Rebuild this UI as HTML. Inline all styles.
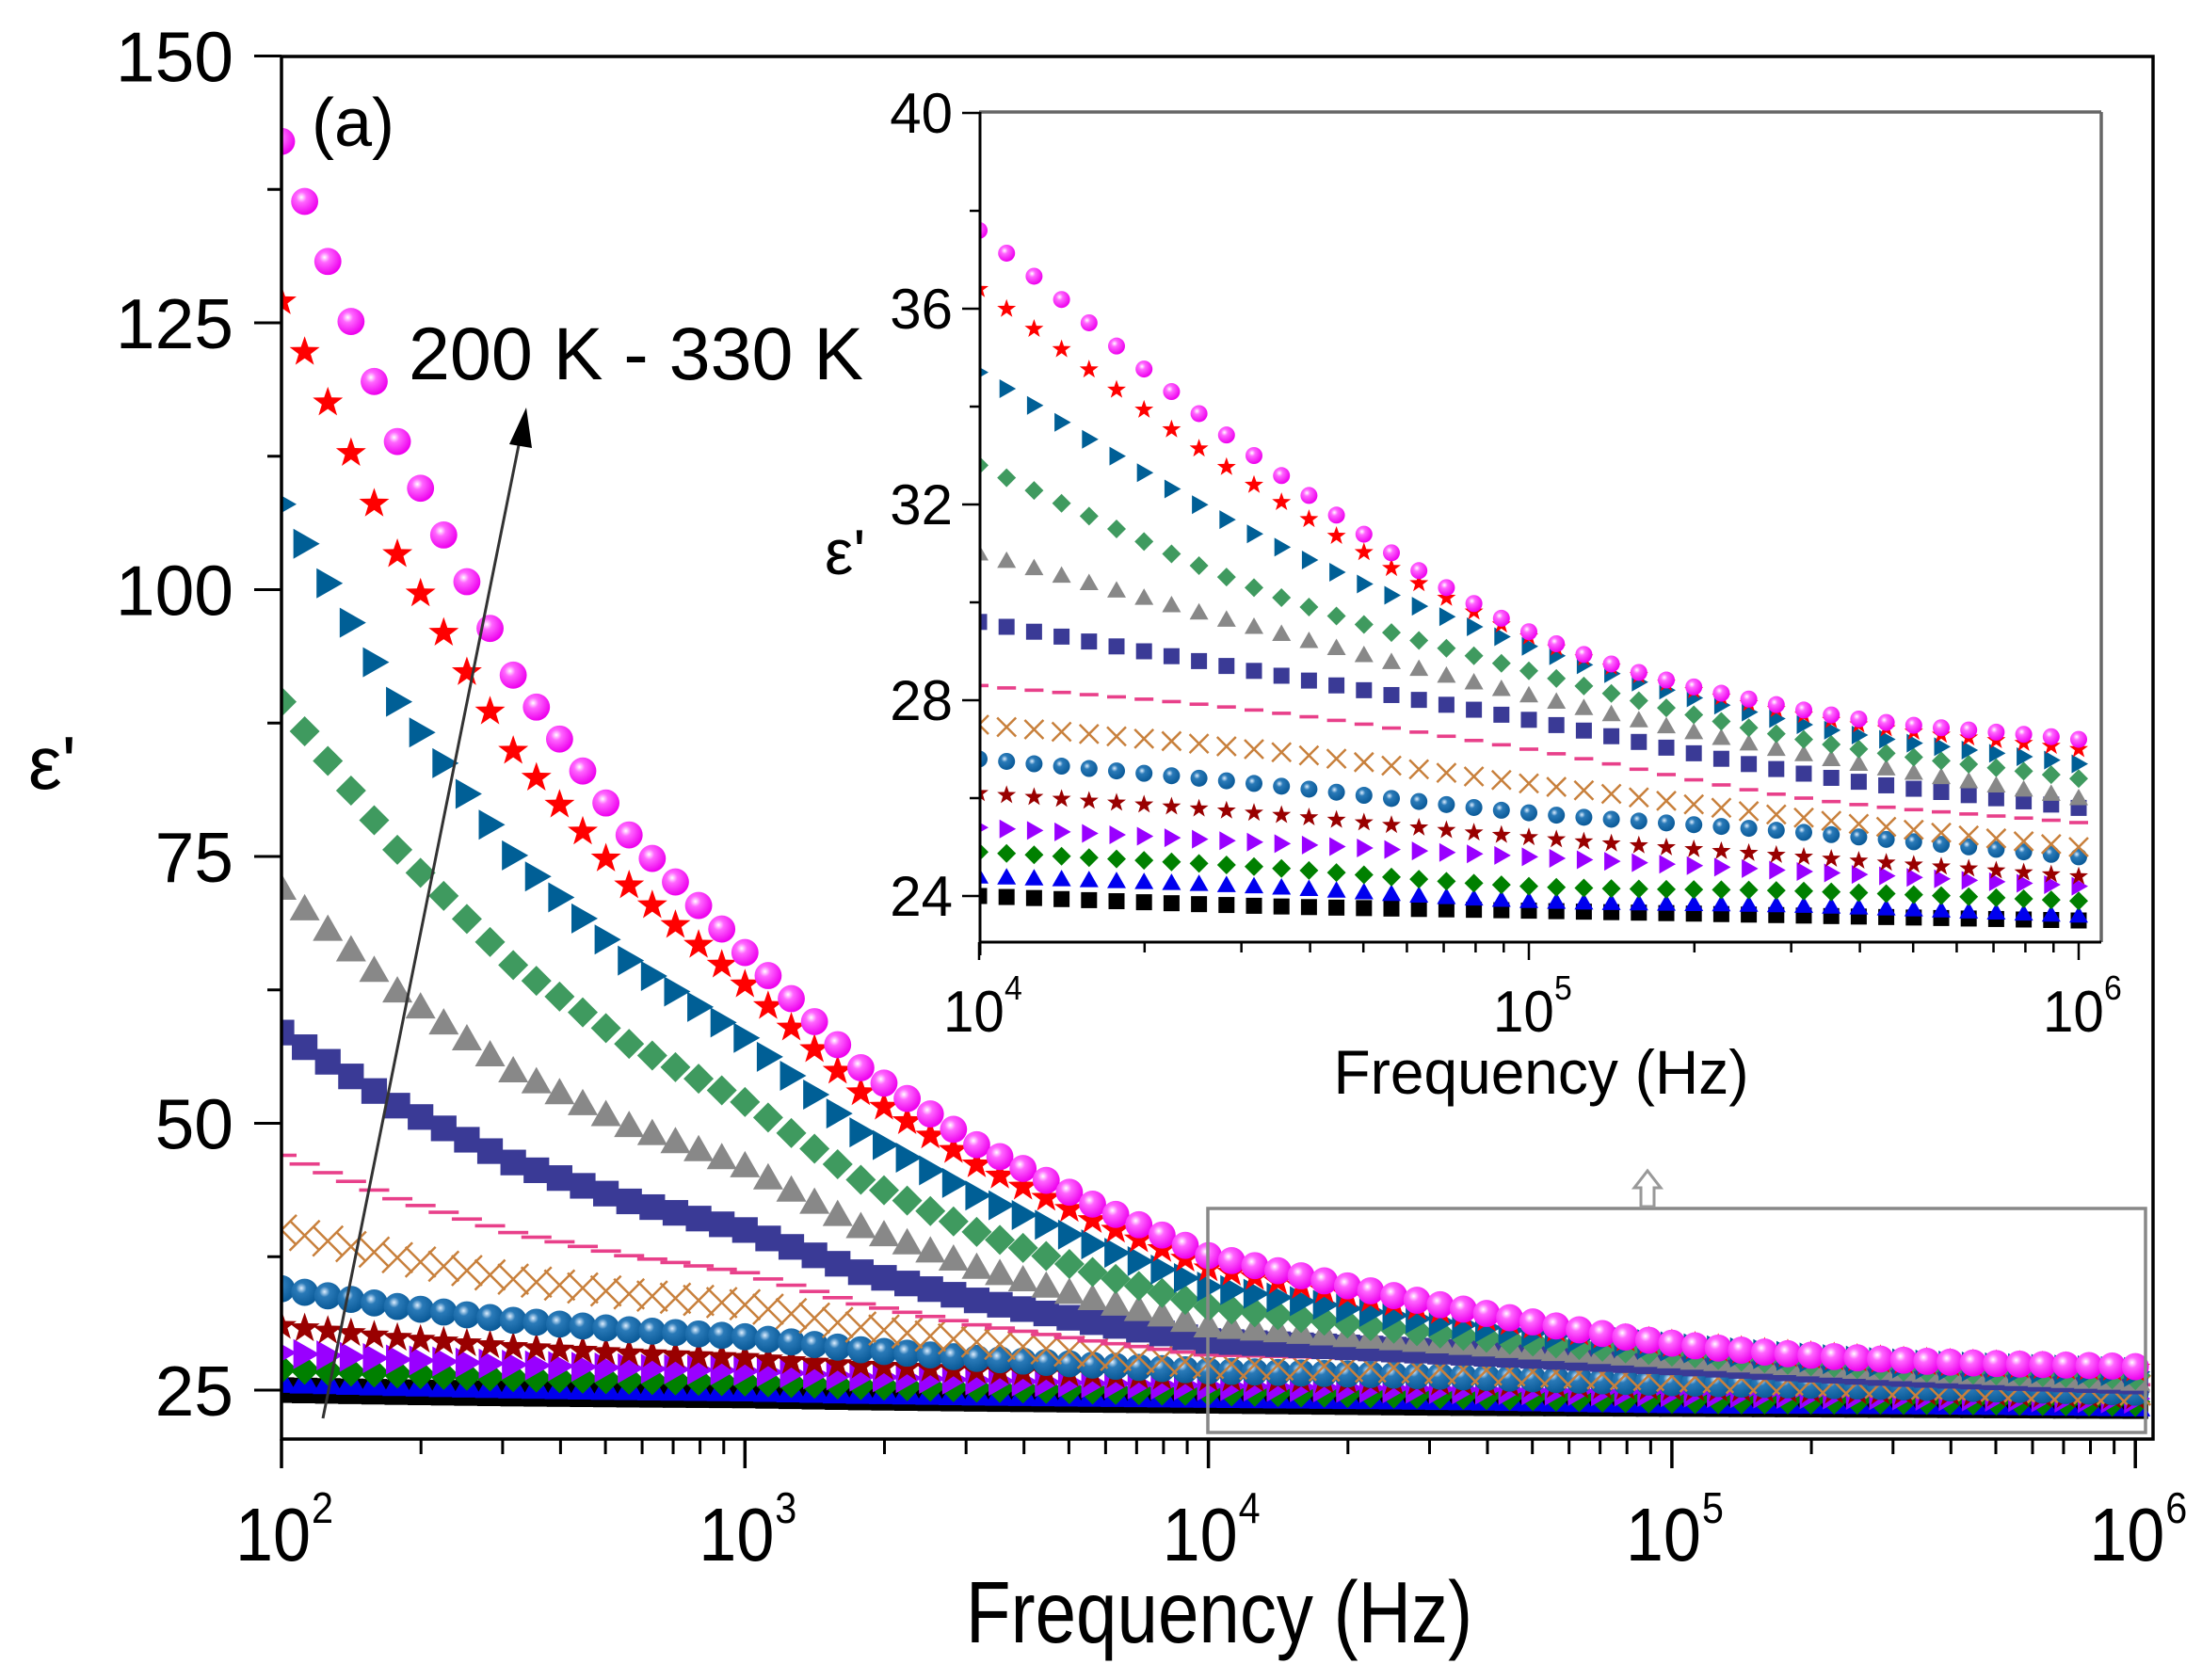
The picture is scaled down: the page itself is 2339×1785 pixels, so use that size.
<!DOCTYPE html>
<html><head><meta charset="utf-8">
<style>html,body{margin:0;padding:0;background:#fff}svg{display:block}text{font-family:"Liberation Sans",Arial,sans-serif}</style>
</head><body>
<svg id="s" width="2339" height="1785" viewBox="0 0 2339 1785" xmlns="http://www.w3.org/2000/svg">
<defs>
<clipPath id="cm"><rect x="299" y="60" width="1988" height="1469"/></clipPath>
<clipPath id="ci"><rect x="1040" y="119" width="1192" height="880"/></clipPath>
<radialGradient id="gm" cx="0.38" cy="0.35" r="0.65"><stop offset="0" stop-color="#fff"/><stop offset="0.3" stop-color="#ff66ff"/><stop offset="1" stop-color="#ee00ee"/></radialGradient>
<radialGradient id="gb" cx="0.38" cy="0.35" r="0.65"><stop offset="0" stop-color="#dfefff"/><stop offset="0.3" stop-color="#2a7ab8"/><stop offset="1" stop-color="#0a5a98"/></radialGradient>
</defs>
<g id="main" clip-path="url(#cm)"></g>
<g id="axes"></g>
<rect x="1040" y="119" width="1192" height="880" fill="#fff"/>
<g id="ins" clip-path="url(#ci)"></g>
<g id="iax"></g>
</svg>
<script>
var NS="http://www.w3.org/2000/svg";
function el(p,t,a,tx){var e=document.createElementNS(NS,t);for(var k in a)e.setAttribute(k,a[k]);if(tx!==undefined)e.textContent=tx;p.appendChild(e);return e;}
function ct(p,x,y,fs,sx,anchor,tx){return el(p,"text",{transform:"translate("+x+","+y+") scale("+sx+",1)","font-size":fs,"text-anchor":anchor||"start"},tx);}
var series=[
["#000","sq",[25,24.5,24.0,23.8,23.7,23.6,23.5]],
["#0000ee","tu",[25.8,25,24.4,24.2,23.9,23.8,23.6]],
["#008000","di",[27,25.8,24.9,24.6,24.2,24.1,23.9]],
["#9900ff","tr",[28.5,26.8,25.4,25.1,24.8,24.5,24.2]],
["#990000","st",[31,28,26.1,25.7,25.2,24.8,24.4]],
["url(#gb)","sp",[34.5,30,26.8,26.3,25.7,25.3,24.8]],
["#c8803c","x",[40,33,27.5,27.0,26.3,25.6,25.0]],
["#e8408a","da",[47,36,28.3,27.8,27.0,26.0,25.5]],
["#3a3a96","sq",[58.5,40,29.6,28.6,27.6,26.5,25.8]],
["#888","tu",[72,46,31.0,29.5,28.1,26.9,26.0]],
["#3f9a5f","di",[89.5,52,32.8,30.3,28.6,27.2,26.4]],
["#005f96","tr",[108,58,34.7,31.4,29.1,27.5,26.7]],
["#ff0000","st",[127,63,36.4,32.4,29.3,27.7,27.0]],
["url(#gm)","sp",[142,66,37.6,33.0,29.4,27.8,27.2]]];
function hA(u){var k=[1,.63,.342,.145,0];var p=u*4,i=Math.min(3,Math.floor(p)),f=p-i;return k[i]+(k[i+1]-k[i])*f;}
function hB(u){var k=[1,.62,.366,.17,0];var p=u*4,i=Math.min(3,Math.floor(p)),f=p-i;return k[i]+(k[i+1]-k[i])*f;}
function val(v,t){
 if(t<=1)return v[1]+(v[0]-v[1])*hA(t);
 if(t<=2)return v[2]+(v[1]-v[2])*hB(t-1);
 var kn=[v[2],v[3],v[4],v[5],v[6]];var p=(t-2)*2,i=Math.min(3,Math.floor(p)),u=p-i;
 var p0=i>0?kn[i-1]:2*kn[0]-kn[1],p1=kn[i],p2=kn[i+1],p3=i<3?kn[i+2]:2*kn[4]-kn[3];
 return 0.5*((2*p1)+(-p0+p2)*u+(2*p0-5*p1+4*p2-p3)*u*u+(-p0+3*p1-3*p2+p3)*u*u*u);}
function mk(g,type,col,x,y,r){
 if(type=="sq")el(g,"rect",{x:x-r*0.85,y:y-r*0.85,width:r*1.7,height:r*1.7,fill:col});
 else if(type=="tu")el(g,"polygon",{points:[x,y-r,x+r,y+r*0.75,x-r,y+r*0.75].join(","),fill:col});
 else if(type=="tr")el(g,"polygon",{points:[x+r,y,x-r*0.75,y-r,x-r*0.75,y+r].join(","),fill:col});
 else if(type=="di")el(g,"polygon",{points:[x,y-r,x+r,y,x,y+r,x-r,y].join(","),fill:col});
 else if(type=="sp")el(g,"circle",{cx:x,cy:y,r:r*0.9,fill:col});
 else if(type=="st"){var p=[];for(var k=0;k<10;k++){var a=-Math.PI/2+k*Math.PI/5,rr=k%2?r*0.42:r*1.05;p.push(x+rr*Math.cos(a),y+rr*Math.sin(a));}el(g,"polygon",{points:p.join(","),fill:col});}
 else if(type=="x"){el(g,"path",{d:"M"+(x-r)+" "+(y-r)+"L"+(x+r)+" "+(y+r)+"M"+(x+r)+" "+(y-r)+"L"+(x-r)+" "+(y+r),stroke:col,"stroke-width":2.5,fill:"none"});}
 else if(type=="da")el(g,"rect",{x:x-r,y:y-1.8,width:2*r,height:3.6,fill:col});
}
var gm=document.getElementById('main'),gi=document.getElementById('ins');
series.forEach(function(s){
 for(var j=0;j<=80;j++){var t=j/20;var v=val(s[2],t);
  mk(gm,s[1],s[0],299+t*492.3,1477-(v-25)*11.34,16);}
 for(var j=40;j<=80;j++){var t=j/20;var v=val(s[2],t);
  mk(gi,s[1],s[0],1040+(t-2)*584,952-(v-24)*52,10);}
});
var ax=document.getElementById('axes');
el(ax,"rect",{x:299,y:60,width:1988,height:1469,fill:"none",stroke:"#000","stroke-width":3.5});
for(var v=25;v<=150;v+=12.5){var y=1477-(v-25)*11.34;var maj=(v%25==0);
 el(ax,"line",{x1:299,x2:maj?270:284,y1:y,y2:y,stroke:"#000","stroke-width":3});
 if(maj)el(ax,"text",{x:248,y:y+27,"font-size":75,"text-anchor":"end"},String(v));}
for(var d=2;d<=6;d++){var x=299+(d-2)*492.3;
 el(ax,"line",{x1:x,x2:x,y1:1529,y2:1560,stroke:"#000","stroke-width":3.5});
 ct(ax,x-49,1658,80,0.9,"start","10");
 ct(ax,x+32,1618,46,0.9,"start",String(d));
 if(d<6)for(var m=2;m<=9;m++){var xm=x+Math.log10(m)*492.3;el(ax,"line",{x1:xm,x2:xm,y1:1529,y2:1545,stroke:"#000","stroke-width":3});}}
ct(ax,1295,1745,93,0.84,"middle","Frequency (Hz)");
el(ax,"text",{x:30,y:838,"font-size":80},"ε'");
el(ax,"text",{x:331,y:155,"font-size":72},"(a)");
el(ax,"text",{x:434,y:403,"font-size":79},"200 K - 330 K");
el(ax,"line",{x1:343,y1:1507,x2:553,y2:463,stroke:"#333","stroke-width":3});
el(ax,"polygon",{points:"559,433 541,472 565,476",fill:"#000"});
el(ax,"rect",{x:1283,y:1284,width:996,height:238,fill:"none",stroke:"#888","stroke-width":3.5});
el(ax,"polygon",{points:"1743,1282 1743,1262 1736,1262 1750,1244 1764,1262 1757,1262 1757,1282",fill:"#fff",stroke:"#999","stroke-width":3});
var ia=document.getElementById('iax');
el(ia,"line",{x1:1040,y1:119,x2:2232,y2:119,stroke:"#666","stroke-width":3.5});
el(ia,"line",{x1:2232,y1:119,x2:2232,y2:1001,stroke:"#666","stroke-width":3.5});
el(ia,"line",{x1:1041,y1:119,x2:1041,y2:1015,stroke:"#000","stroke-width":3});
el(ia,"line",{x1:1040,y1:1001,x2:2232,y2:1001,stroke:"#000","stroke-width":3});
for(var v=24;v<=40;v+=2){var y=952-(v-24)*52;var maj=(v%4==0);
 el(ia,"line",{x1:1041,x2:maj?1022:1030,y1:y,y2:y,stroke:"#000","stroke-width":2.5});
 if(maj)el(ia,"text",{x:1012,y:y+21,"font-size":60,"text-anchor":"end"},String(v));}
for(var d=4;d<=6;d++){var x=1040+(d-4)*584;
 el(ia,"line",{x1:x,x2:x,y1:1001,y2:1020,stroke:"#000","stroke-width":2.5});
 ct(ia,x-38,1096,62,0.94,"start","10");
 ct(ia,x+27,1062,36,0.94,"start",String(d));
 if(d<6)for(var m=2;m<=9;m++){var xm=x+Math.log10(m)*584;el(ia,"line",{x1:xm,x2:xm,y1:1001,y2:1012,stroke:"#000","stroke-width":2.5});}}
ct(ia,1637,1162,66,0.97,"middle","Frequency (Hz)");
el(ia,"text",{x:876,y:610,"font-size":68},"ε'");
</script>
</body></html>
